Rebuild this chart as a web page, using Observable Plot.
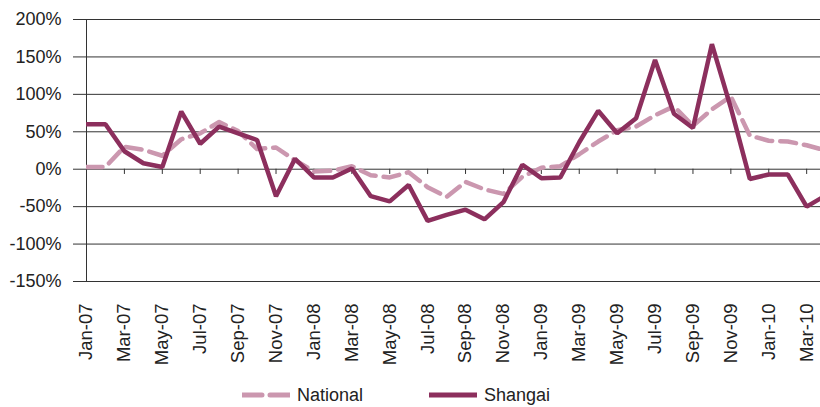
<!DOCTYPE html>
<html><head><meta charset="utf-8">
<script src="https://cdn.jsdelivr.net/npm/d3@7"></script>
<script src="https://cdn.jsdelivr.net/npm/@observablehq/plot@0.6"></script>
<style>
body{margin:0;background:#fff;}
#wrap{width:820px;height:407px;overflow:hidden;position:relative;font-family:"Liberation Sans",Arial,sans-serif;color:#222;}
#legend{position:relative;height:27px;font-size:18px;}
#legend .item{position:absolute;top:5px;display:flex;align-items:center;}
#legend svg{display:block;}
#legend span{margin-left:7px;line-height:20px;}
</style></head><body><div id="wrap"><div id="chart"></div><div id="legend"></div></div>
<script>
const months = ["Jan-07","Feb-07","Mar-07","Apr-07","May-07","Jun-07","Jul-07","Aug-07","Sep-07","Oct-07","Nov-07","Dec-07",
  "Jan-08","Feb-08","Mar-08","Apr-08","May-08","Jun-08","Jul-08","Aug-08","Sep-08","Oct-08","Nov-08","Dec-08",
  "Jan-09","Feb-09","Mar-09","Apr-09","May-09","Jun-09","Jul-09","Aug-09","Sep-09","Oct-09","Nov-09","Dec-09",
  "Jan-10","Feb-10","Mar-10","Apr-10"];
const tickLabels = ["Jan-07","Mar-07","May-07","Jul-07","Sep-07","Nov-07","Jan-08","Mar-08","May-08","Jul-08","Sep-08","Nov-08",
  "Jan-09","Mar-09","May-09","Jul-09","Sep-09","Nov-09","Jan-10","Mar-10"];
const national = [3,3,30,26,18,40,48,63,51,27,29,12,-3,-2,4,-8,-11,-4,-24,-37,-17,-27,-33,-10,2,4,20,37,52,57,72,84,58,80,97,45,38,37,32,25];
const shangai  = [60,60,24,8,3,77,34,57,48,39,-36,14,-11,-11,1,-36,-43,-21,-69,-61,-54,-67,-44,6,-12,-11,36,78,48,68,146,74,55,167,82,-13,-7,-7,-50,-35];
const yTicks = [-150,-100,-50,0,50,100,150,200];
const seriesNames = ["National","Shangai"];
const seriesColors = ["#CB97AF","#8C2F5D"];
const xMax = 38.73;

const natRows = months.map((m,i)=>({i, month:m, v:national[i]}));
const shaRows = months.map((m,i)=>({i, month:m, v:shangai[i]}));
const tickIdx = tickLabels.map(l=>months.indexOf(l));
const font = '"Liberation Sans",Arial,sans-serif';

const H = 380;
const chart = Plot.plot({
  width:820, height:H, marginLeft:86, marginRight:0, marginTop:19, marginBottom:H-281,
  x:{type:"linear", domain:[0, xMax]},
  y:{domain:[-150,200]},
  style:{fontFamily:font, fontSize:"18px", color:"#222", background:"#fff", overflow:"visible"},
  marks:[
    Plot.gridY(yTicks,{stroke:"#333", strokeOpacity:1, strokeWidth:1}),
    Plot.axisY(yTicks,{tickSize:13, tickPadding:12, tickFormat:d=>d+"%", stroke:"#333", strokeOpacity:1, fontSize:18, label:null}),
    Plot.ruleX([0],{stroke:"#333", strokeWidth:1}),
    Plot.ruleX(tickIdx.slice(1),{x:d=>d, y1:0, y2:-7, stroke:"#333", strokeWidth:1}),
    Plot.axisX(tickIdx,{tickSize:0, tickPadding:22, tickRotate:-90, tickFormat:i=>months[i], fontSize:18.5, label:null}),
    Plot.line(natRows,{x:"i", y:"v", stroke:seriesColors[0], strokeWidth:4.5, strokeDasharray:"16,8", clip:true}),
    Plot.line(shaRows,{x:"i", y:"v", stroke:seriesColors[1], strokeWidth:4.5, strokeLinejoin:"miter", clip:true})
  ]
});
document.getElementById("chart").appendChild(chart);

const legend = d3.select("#legend");
const lefts = [242, 429];
seriesNames.forEach((name,k)=>{
  const item = legend.append("div").attr("class","item").style("left", lefts[k]+"px");
  const s = item.append("svg").attr("width",48).attr("height",18);
  s.append("line").attr("x1",0).attr("x2",48).attr("y1",9).attr("y2",9)
    .attr("stroke",seriesColors[k]).attr("stroke-width",5)
    .attr("stroke-dasharray", k===0 ? "20,8" : null)
    .attr("stroke-linecap", "round");
  item.append("span").text(name);
});
</script></body></html>
